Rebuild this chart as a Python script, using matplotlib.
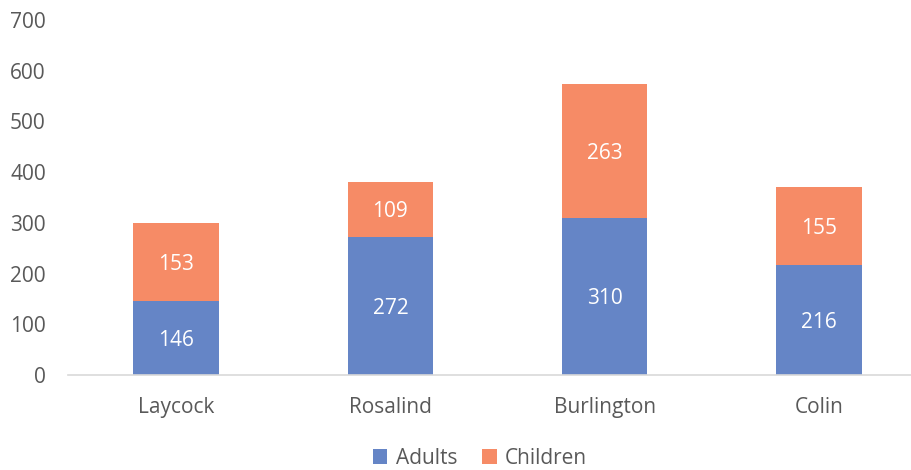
import matplotlib.pyplot as plt
import numpy as np

plt.rcParams['font.family'] = ['Open Sans', 'DejaVu Sans']

categories = ["Laycock", "Rosalind", "Burlington", "Colin"]
adults = [146, 272, 310, 216]
children = [153, 109, 263, 155]

blue = "#6585C6"
orange = "#F68B66"
grey = "#595959"

fig = plt.figure(figsize=(9.12, 4.70), dpi=100)
ax = fig.add_axes([68/912, 1 - 375/470, 843/912, 355/470])

x = np.arange(len(categories))
w = 0.40
b1 = ax.bar(x, adults, w, color=blue, label="Adults")
b2 = ax.bar(x, children, w, bottom=adults, color=orange, label="Children")

for bars in (b1, b2):
    for r in bars:
        h = r.get_height()
        ax.text(r.get_x() + r.get_width()/2, r.get_y() + h/2 - 4, str(int(h)),
                ha="center", va="center", color="white", fontsize=15)

ax.set_xlim(-0.505, 3.43)
ax.set_ylim(0, 700)
ax.set_yticks(range(0, 701, 100))
ax.set_xticks(x)
ax.set_xticklabels(categories)
ax.tick_params(axis="both", length=0, labelsize=15, colors=grey)
ax.tick_params(axis="y", pad=16)
ax.tick_params(axis="x", pad=16)
for s in ["top", "right", "left"]:
    ax.spines[s].set_visible(False)
ax.spines["bottom"].set_color("#D9D9D9")
ax.spines["bottom"].set_linewidth(1.2)

leg = fig.legend(handles=[b1, b2], loc="center", bbox_to_anchor=(480/912, 1 - 458/470),
                 ncol=2, frameon=False, fontsize=15, handlelength=0.7, handleheight=0.7,
                 handletextpad=0.4, columnspacing=1.2)
for t in leg.get_texts():
    t.set_color(grey)

fig.savefig("out.png", dpi=100)
